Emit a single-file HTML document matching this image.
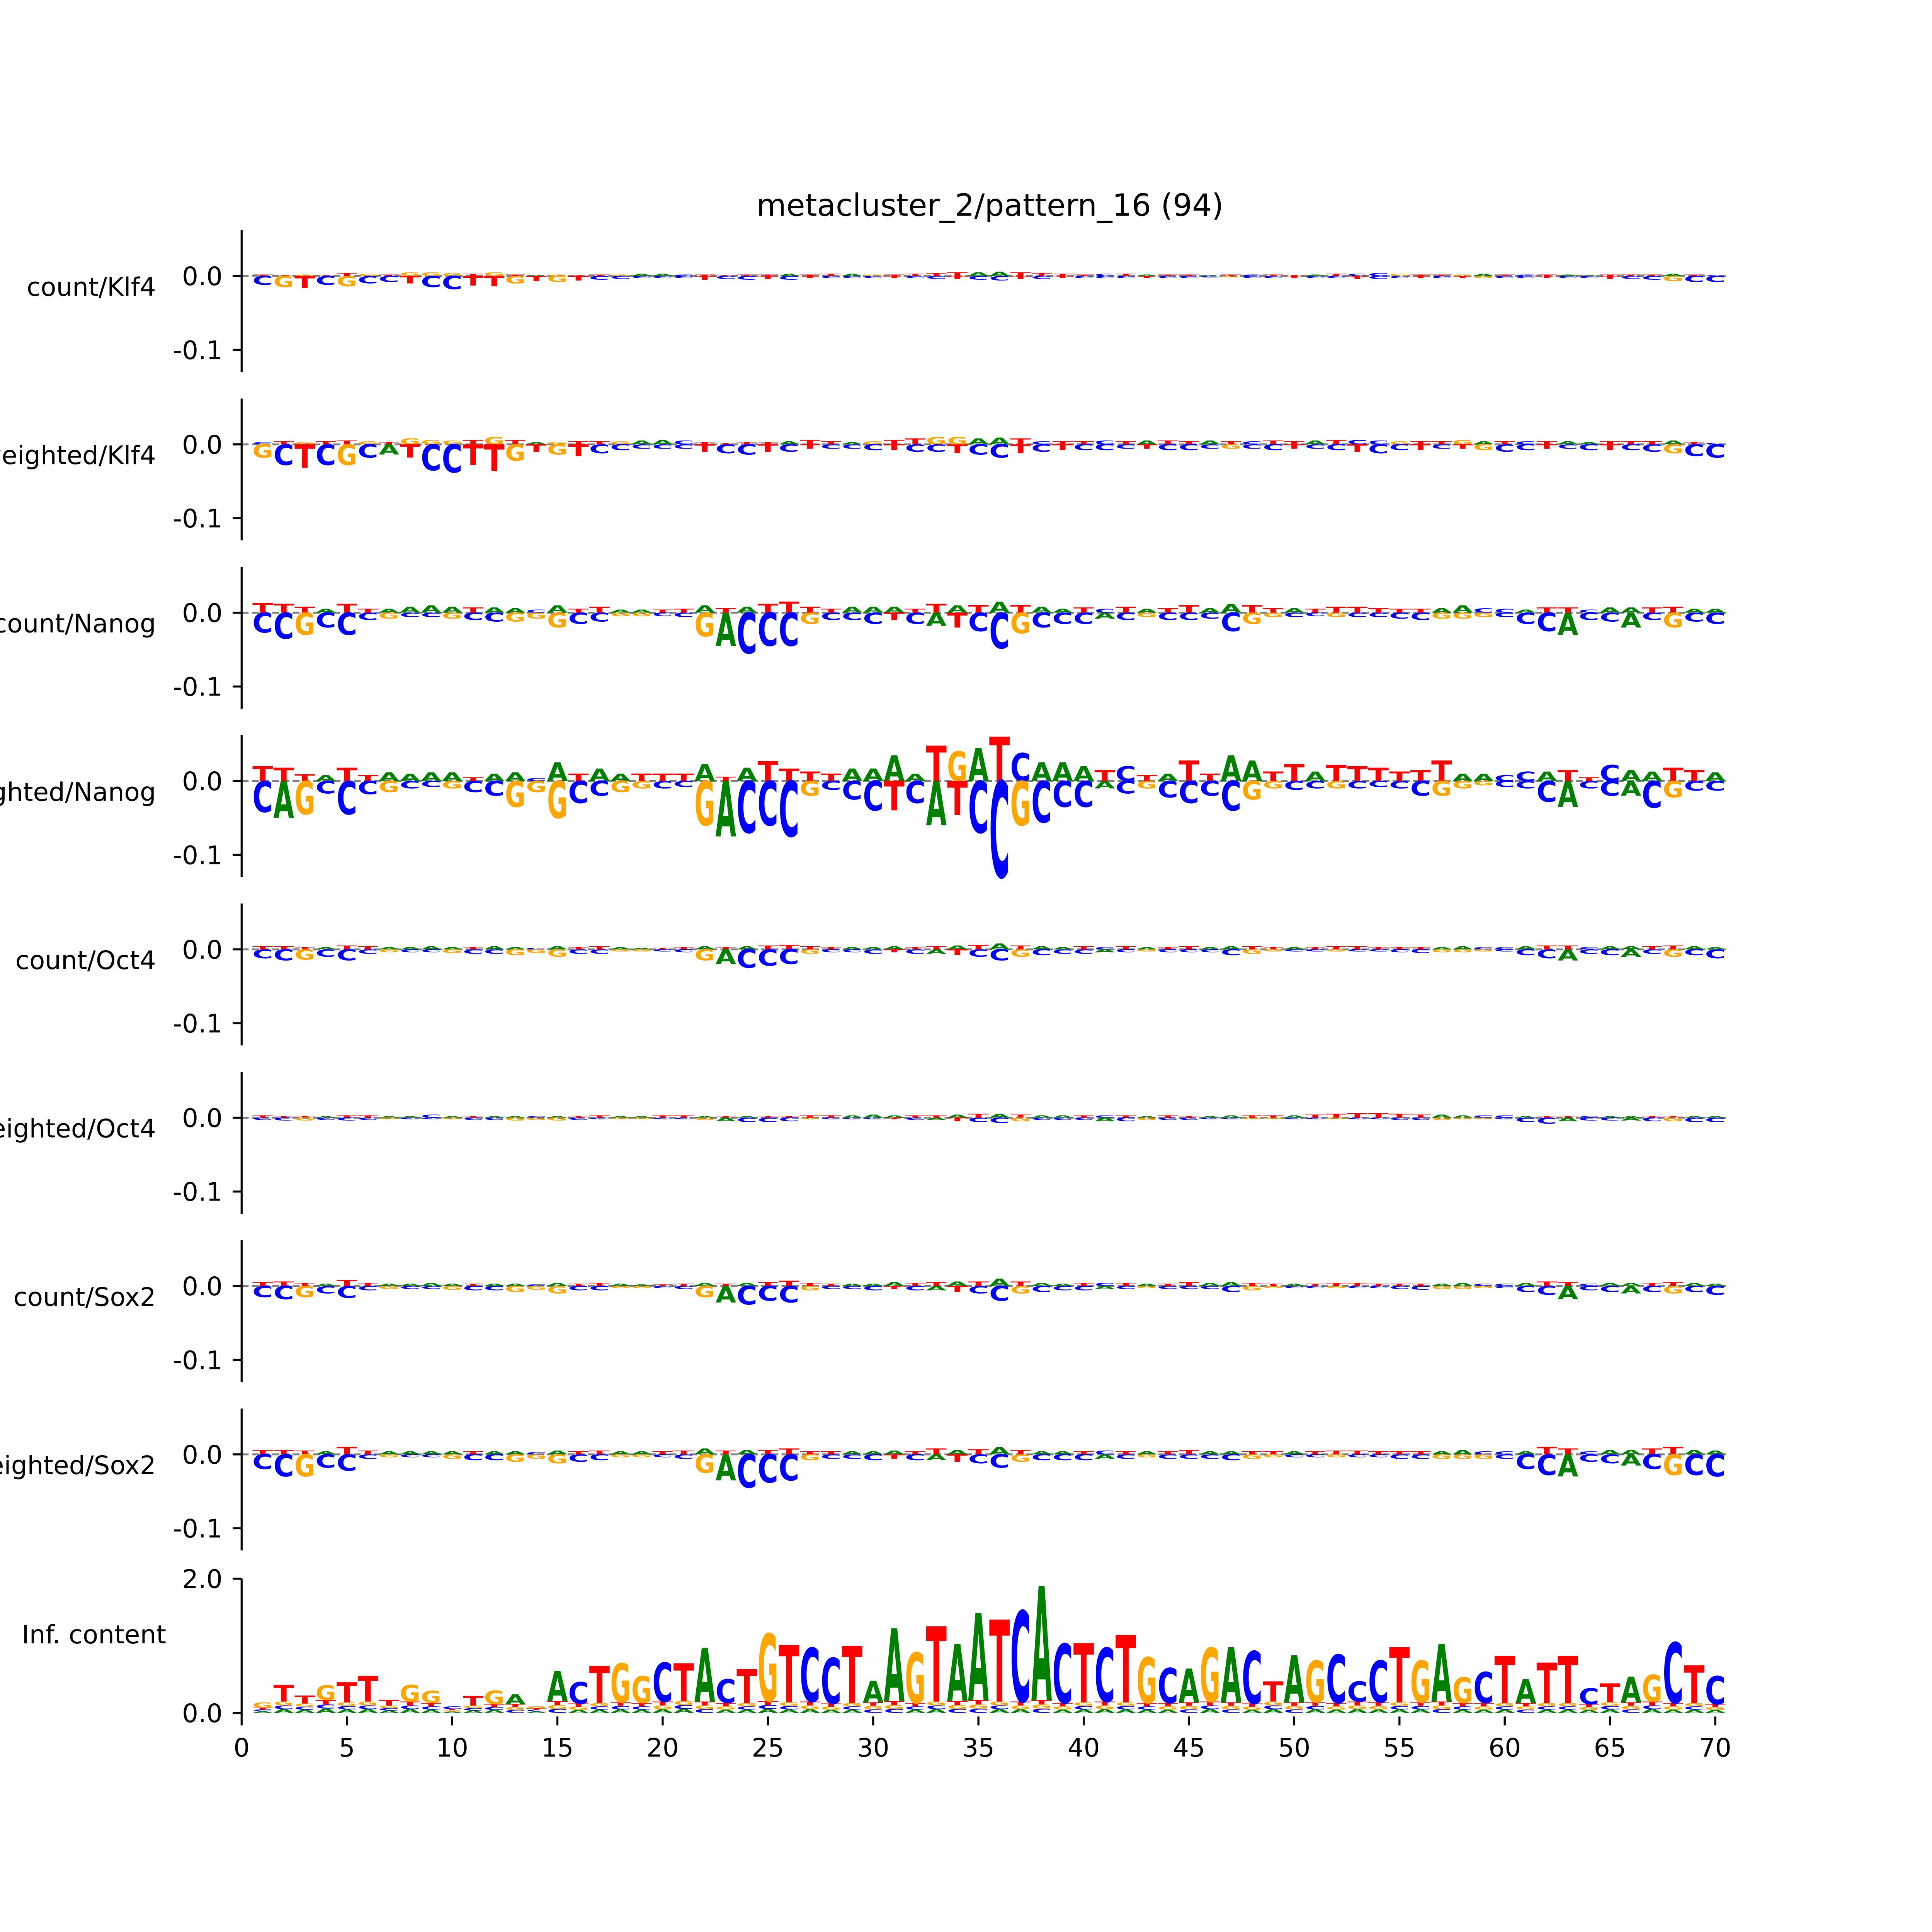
<!DOCTYPE html>
<html><head><meta charset="utf-8">
<style>
html,body{margin:0;padding:0;background:#fff;overflow:hidden;width:100%;height:100%;}
svg{display:block;width:100vw;height:100vh;}
text{font-family:"DejaVu Sans","Liberation Sans",sans-serif;}
</style></head>
<body>
<svg id="fig" xmlns="http://www.w3.org/2000/svg" viewBox="0 0 6069 6069" preserveAspectRatio="xMinYMin meet">
<rect width="6100" height="6100" fill="#fff"/>
<text x="3110" y="678" font-size="96" text-anchor="middle">metacluster_2/pattern_16 (94)</text>
<g id="panels"></g>
</svg>
<script>
// ---- data ----
const trackNames = ["count/Klf4","weighted/Klf4","count/Nanog","weighted/Nanog","count/Oct4","weighted/Oct4","count/Sox2","weighted/Sox2"];
const posLetters = [
 "TTGTTGTGGGTGTAGTTGAACTTTTATTAGTTTTAATTTTCTATTATCTTATCCGTTGATCTAATTTATC",
 "CTGTTGTGGGTGTAGTTGAACTTTTATTAGTTGGAATCTTCTATTATCTTATCCGTTGATCTAATTTATC",
 "TTTATTAAAATAACATTAATTATATTTTAAATTATATAATCTATTAATTATTTTTTAACCATTCAATTAA",
 "TTTATTAAAATAACATAATTTATATTTTAAAATGATCAAATCTATTAATTATTTTTTAACCATTCAATTAA",
 "TTTATTAAAATAACATTAATTATATTTTAAATTATATAATCTATTAATTATTTTTTAACCATTCAATTAA",
 "TTTATTAACATAACATTAATTATATTTTAAATTATATAATCTATTAATTATTTTTTAACCATTCAATTAA",
 "TTTATTAAAATAACATTAATTATATTTTAAATTATATAATCTATTAATTATTTTTTAACCATTCAATTAA",
 "TTTATTAAAATAACATTAATTATATTTTAAATTATATAATCTATTAATTATTTTTTAACCATTCAATTAA"
];
const negLetters = [
 "CGTCGCCTCCTTGTGTCCCCCTCCTCTCCCTCCTCCTCTCCCTCCCGCCTCCTCCTCTGCCTCCTCCGCC",
 "GCTCGCATCCTTGTGTCCCCCTCCTCTCCCTCCTCCTCTCCCTCCCGCCTCCTCCTCTGCCTCCTCCGCC",
 "CCGCCCGCCGCCGGGCCGGCCGACCCGCCCTCATCCGCCCACGCCCCGGCCGCCCCGGGCCCACCACGCC",
 "CAGCCCGCCGCCGGGCCGGCCGACCCGCCCTCATCCGCCCACGCCCCGGCCGCCCCGGGCCCACCACGCC",
 "CCGCCCGCCGCCGGGCCGGCCGACCCGCCCTCATCCGCCCACGCCCCGGCCGCCCCGGGCCCACCACGCC",
 "CCGCCCGCCGCCGGGCCGGCCGACCCGCCCTCATCCGCCCACGCCCCGGCCGCCCCGGGCCCACCACGCC",
 "CCGCCCGCCGCCGGGCCGGCCGACCCGCCCTCATCCGCCCACGCCCCGGCCGCCCCGGGCCCACCACGCC",
 "CCGCCCGCCGCCGGGCCGGCCGACCCGCCCTCATCCGCCCACGCCCCGGCCGCCCCGGGCCCACCACGCC"
];
const posKlf4Count = [2,1,2,1,4,3,2,5,5,4,3,5,2,1,2,1,2,2,3,3,2,2,1,2,2,3,2,3,3,2,2,3,4,5,5,6,5,4,3,2,3,3,2,2,2,1,2,2,2,1,2,3,3,4,3,2,2,2,3,2,2,2,2,1,2,2,2,3,2,1];
const negKlf4Count = [-12,-15,-16,-12,-14,-10,-8,-10,-15,-18,-13,-14,-10,-7,-8,-6,-5,-4,-3,-3,-3,-5,-4,-5,-4,-5,-3,-3,-3,-3,-3,-3,-4,-4,-5,-6,-4,-4,-3,-3,-3,-3,-3,-3,-3,-2,-2,-3,-3,-3,-3,-3,-4,-4,-3,-3,-3,-3,-3,-3,-3,-3,-3,-3,-4,-4,-5,-7,-8,-8];
const posKlf4W = [3,4,3,4,5,4,3,8,6,5,6,10,6,3,3,4,4,4,5,6,5,3,2,3,3,4,6,4,3,4,6,8,10,10,8,9,8,4,4,4,5,4,5,5,4,5,4,4,5,4,5,6,6,5,4,4,4,6,4,4,4,4,4,3,4,4,4,5,3,2];
const negKlf4W = [-18,-28,-32,-28,-28,-18,-14,-18,-35,-38,-28,-36,-22,-10,-14,-16,-12,-8,-6,-6,-6,-10,-12,-14,-10,-10,-6,-6,-6,-8,-8,-10,-10,-12,-14,-18,-12,-10,-8,-8,-8,-6,-6,-8,-8,-6,-6,-6,-8,-6,-6,-8,-10,-12,-8,-8,-6,-6,-8,-10,-8,-6,-6,-8,-8,-8,-10,-12,-16,-18];
const posNanogCount = [13,12,8,5,12,5,5,8,10,8,7,7,6,4,10,5,8,4,4,4,5,10,6,8,12,15,8,5,8,8,8,5,12,10,10,15,10,8,5,7,5,8,5,6,10,6,12,10,6,6,5,8,8,6,5,5,6,10,6,5,4,7,7,4,7,7,7,8,5,5];
const negNanogCount = [-27,-35,-30,-20,-30,-10,-8,-6,-6,-8,-10,-12,-12,-8,-20,-15,-12,-5,-5,-5,-6,-32,-45,-55,-45,-45,-15,-10,-10,-15,-10,-15,-18,-20,-25,-48,-28,-20,-15,-15,-8,-10,-6,-10,-10,-8,-25,-15,-6,-6,-5,-6,-6,-6,-8,-10,-8,-8,-6,-6,-15,-25,-30,-10,-12,-20,-10,-20,-12,-15];
const posNanogW = [20,18,9,8,18,8,12,10,12,12,5,10,12,4,25,10,17,10,10,10,10,23,6,18,27,17,13,10,17,17,35,10,48,40,45,60,38,25,25,20,15,20,8,10,28,10,35,28,13,23,13,22,20,18,13,15,28,10,10,8,13,13,15,5,22,15,13,18,15,12];
const negNanogW = [-42,-50,-45,-17,-45,-18,-15,-10,-8,-10,-15,-20,-35,-15,-50,-30,-20,-15,-10,-10,-8,-60,-75,-70,-60,-75,-20,-12,-25,-40,-40,-30,-60,-46,-70,-130,-60,-56,-35,-35,-10,-17,-10,-22,-30,-20,-40,-25,-10,-12,-10,-10,-10,-8,-10,-20,-20,-10,-6,-8,-10,-28,-35,-10,-20,-20,-36,-22,-13,-13];
const posOct4Count = [4,4,3,3,5,4,3,3,4,3,3,4,3,2,4,3,4,3,2,2,3,4,3,4,5,6,4,3,3,3,4,3,4,5,6,8,5,4,3,4,3,4,3,3,4,3,4,4,3,3,3,4,4,3,3,3,3,4,3,3,4,5,5,3,4,4,4,5,4,3];
const negOct4Count = [-12,-15,-14,-10,-15,-6,-4,-4,-4,-5,-6,-6,-8,-5,-10,-6,-6,-3,-3,-3,-4,-15,-20,-25,-22,-20,-6,-4,-4,-6,-4,-6,-6,-8,-10,-15,-10,-8,-6,-6,-4,-4,-3,-4,-4,-4,-8,-6,-3,-3,-3,-3,-3,-3,-4,-5,-4,-4,-3,-3,-8,-12,-15,-6,-8,-10,-6,-10,-8,-12];
const posOct4W = [3,2,2,2,3,3,2,2,4,2,2,2,2,2,2,2,3,2,2,3,3,2,2,2,2,2,3,3,3,4,3,3,3,4,5,5,4,3,3,3,3,3,2,3,2,2,3,3,3,3,4,5,6,6,5,4,4,3,3,3,2,2,2,2,2,2,2,2,2,2];
const negOct4W = [-3,-4,-4,-3,-4,-3,-2,-2,-2,-2,-3,-3,-4,-3,-4,-3,-2,-2,-2,-2,-2,-3,-5,-6,-6,-5,-2,-2,-2,-2,-2,-3,-3,-5,-6,-7,-5,-3,-3,-3,-5,-5,-3,-3,-3,-2,-2,-2,-2,-2,-2,-2,-2,-2,-3,-3,-3,-2,-2,-2,-6,-8,-5,-4,-4,-4,-5,-5,-6,-6];
const posSox2Count = [5,6,4,3,8,4,3,3,4,3,3,3,3,2,4,3,4,3,2,2,3,4,3,4,5,7,4,3,3,3,5,4,5,6,6,10,6,4,3,4,4,4,3,3,5,4,5,4,3,3,3,4,4,3,3,3,3,4,3,3,4,6,5,3,4,4,4,5,4,3];
const negSox2Count = [-15,-18,-15,-10,-16,-6,-4,-4,-4,-5,-6,-6,-8,-5,-10,-6,-6,-3,-3,-3,-4,-15,-22,-25,-20,-22,-6,-4,-4,-6,-4,-6,-6,-8,-10,-20,-10,-8,-6,-6,-4,-4,-3,-4,-4,-4,-8,-6,-3,-3,-3,-3,-3,-3,-4,-5,-4,-4,-3,-3,-8,-12,-18,-6,-8,-10,-8,-10,-8,-12];
const posSox2W = [6,6,5,4,10,5,4,4,4,4,4,4,4,3,5,4,5,4,4,4,5,8,5,6,6,8,4,4,4,4,5,4,8,6,7,10,6,4,4,4,5,4,4,4,6,4,4,4,4,4,4,5,5,4,4,4,4,6,4,4,4,10,8,4,6,6,8,10,6,5];
const negSox2W = [-20,-30,-30,-18,-22,-6,-4,-4,-4,-6,-8,-8,-10,-6,-12,-10,-8,-4,-4,-4,-6,-25,-35,-45,-38,-35,-8,-6,-6,-8,-6,-8,-8,-10,-12,-18,-10,-8,-8,-8,-6,-6,-4,-6,-6,-6,-8,-6,-4,-4,-4,-4,-4,-4,-6,-6,-6,-6,-6,-6,-20,-28,-30,-10,-12,-15,-20,-28,-28,-30];
const posValues = [posKlf4Count,posKlf4W,posNanogCount,posNanogW,posOct4Count,posOct4W,posSox2Count,posSox2W];
const negValues = [negKlf4Count,negKlf4W,negNanogCount,negNanogW,negOct4Count,negOct4W,negSox2Count,negSox2W];
const contribTicks = ["0.0","-0.1"];
const contribTickVals = [0,-0.1];
const icSeq = "GTTGTTTGGCTGAGACTGGCTACTGTCCTAAGTAATCACTCTGCAGACTAGCCCTGAGCTATTCTAGCTC";
const icTotal = [16,42,26,41,46,55,19,42,33,10,25,33,28,10,63,46,70,74,55,75,74,97,50,65,118,101,97,82,100,48,126,90,129,103,149,139,152,189,103,104,97,116,83,67,66,97,98,92,47,86,78,87,47,78,98,78,103,53,61,85,50,75,85,37,44,54,57,105,71,55];
const icTop = [8,25,12,22,30,38,8,25,18,4,14,20,15,3,45,32,55,58,40,58,56,80,35,50,100,85,80,68,85,32,108,75,112,85,130,122,135,170,88,88,80,100,68,52,50,80,82,78,30,70,62,72,30,62,82,62,86,38,46,70,35,60,70,24,28,38,40,90,56,42];
const icTicks = ["0.0","2.0"];
const icTickVals = [0,2];
const xTicks = [0,5,10,15,20,25,30,35,40,45,50,55,60,65,70];

// ---- layout ----
const NS = "http://www.w3.org/2000/svg";
const X0 = 759, UNIT = 66.13;
const xs = v => X0 + v*UNIT;
const ZERO0 = 867, PSTEP = 528.8, PXPER = 2320;
const IC0 = 5381, ICPX = 211;
const colors = {A:"#008000",C:"#0000ff",G:"#ffa500",T:"#ff0000"};
const adv = {A:77.4,C:73.4,G:82.1,T:68.2};
const root = document.getElementById("panels");

function el(tag, attrs, parent){
  const e = document.createElementNS(NS, tag);
  for (const k in attrs) e.setAttribute(k, attrs[k]);
  (parent||root).appendChild(e);
  return e;
}
function letter(g, L, pos, yBottom, hPx){
  if (hPx <= 0.3) return;
  const sx = (UNIT*0.98)/adv[L], sy = hPx/72.9;
  const t = el("text", {x:0, y:0, "font-size":100, "font-weight":"bold", "text-anchor":"middle", fill:colors[L],
    transform:`translate(${xs(pos)},${yBottom}) scale(${sx},${sy})`}, g);
  
  
  t.textContent = L;
}
function spine(g, x, y1, y2){
  el("line",{x1:x,y1:y1,x2:x,y2:y2,stroke:"#000","stroke-width":6.4}, g);
}

for (let k=0;k<trackNames.length;k++){
  const z = ZERO0 + k*PSTEP;
  const ys = v => z - v*PXPER;
  const g = el("g",{});
  
  
  const yTop = ys(0.062), yBot = ys(-0.13);
  el("line",{x1:X0,y1:z,x2:xs(70.6),y2:z,stroke:"#808080","stroke-width":6,"stroke-dasharray":"22,10"}, g);
  const pv = posValues[k], nv = negValues[k];
  for (let i=0;i<pv.length;i++){
    letter(g, posLetters[k][i]||"T", i+1, z, (ys(0)-ys(pv[i]/1000)));
  }
  for (let i=0;i<nv.length;i++){
    const h = ys(nv[i]/1000) - ys(0);
    letter(g, negLetters[k][i]||"C", i+1, z + h, h);
  }
  spine(g, X0, yTop, yBot);
  contribTickVals.forEach((v,j)=>{
    el("line",{x1:X0-28,y1:ys(v),x2:X0,y2:ys(v),stroke:"#000","stroke-width":6.4}, g);
    const t = el("text",{x:X0-60,y:ys(v)+29,"font-size":80,"text-anchor":"end",fill:"#000"}, g);
    
    
    t.textContent = contribTicks[j];
  });
  const lab = el("text",{x:490,y:z+62,"font-size":80,"text-anchor":"end",fill:"#000"}, g);
  
  
  lab.textContent = trackNames[k];
}

{
  const ys = v => IC0 - v*ICPX;
  const g = el("g",{});
  
  
  for (let i=0;i<icTotal.length;i++){
    const top = icSeq[i], tot = icTotal[i]/100, th = icTop[i]/100;
    const others = "ACGT".split("").filter(c=>c!==top);
    let y = IC0;
    const rest = Math.max(0, tot - th)/3;
    others.forEach(L=>{ const h = rest*ICPX; letter(g, L, i+1, y, h); y -= h; });
    letter(g, top, i+1, y, th*ICPX);
  }
  spine(g, X0, ys(2), 5392);
  icTickVals.forEach((v,j)=>{
    el("line",{x1:X0-28,y1:ys(v),x2:X0,y2:ys(v),stroke:"#000","stroke-width":6.4}, g);
    const t = el("text",{x:X0-60,y:ys(v)+29,"font-size":80,"text-anchor":"end",fill:"#000"}, g);
    
    
    t.textContent = icTicks[j];
  });
  const lab = el("text",{x:522,y:5162,"font-size":80,"text-anchor":"end",fill:"#000"}, g);
  
  
  lab.textContent = "Inf. content";
  xTicks.forEach(v=>{
    el("line",{x1:xs(v),y1:5392,x2:xs(v),y2:5420,stroke:"#000","stroke-width":6.4}, g);
    const t = el("text",{x:xs(v),y:5518,"font-size":80,"text-anchor":"middle",fill:"#000"}, g);
    
    
    t.textContent = String(v);
  });
}
</script>
</body></html>
